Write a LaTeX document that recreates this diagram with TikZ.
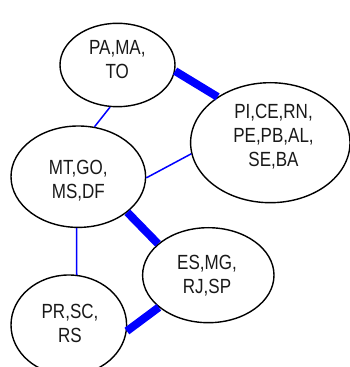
\documentclass[tikz,border=0pt]{standalone}
\usepackage{fontspec}
\newfontfamily\labfont[FakeStretch=0.83]{Liberation Sans}
\usetikzlibrary{shapes.geometric}
\begin{document}
\begin{tikzpicture}[x=1pt,y=1pt,
  ell/.style={draw=black,line width=1.4pt,ellipse,inner sep=0pt},
  txt/.style={align=center,inner sep=0pt,anchor=center,text=black!90,
    font=\labfont\fontsize{20.5}{24}\selectfont},
  thin/.style={draw=blue,line width=1.5pt},
  thick/.style={draw=blue,line width=8pt}]
\useasboundingbox (0,0) rectangle (350,367);
\node[ell,minimum width=115pt,minimum height=83.4pt] (pa) at (117.5,302) {};
\node[ell,minimum width=159.4pt,minimum height=120pt] (pi) at (270.3,224.3) {};
\node[ell,minimum width=134.6pt,minimum height=101.4pt] (mt) at (78.3,190.3) {};
\node[ell,minimum width=131.4pt,minimum height=95pt] (es) at (208.3,91.8) {};
\node[ell,minimum width=115.6pt,minimum height=100pt] (pr) at (68.8,42) {};
\node[txt] (pat) at (117.3,307.5) {PA,MA,\\TO};
\node[txt] (pit) at (273.5,230.5) {PI,CE,RN,\\PE,PB,AL,\\SE,BA};
\node[txt] (mtt) at (78.3,186.3) {MT,GO,\\MS,DF};
\node[txt] (est) at (207,91.2) {ES,MG,\\RJ,SP};
\node[txt] (prt) at (70,43.7) {PR,SC,\\RS};
\draw[thick] (pa.-6) -- (pi.139);
\draw[thin] (pa.260.7) -- (mt.72.2);
\draw[thin] (pi.188.3) -- (mt.-1.4);
\draw[thick] (mt.-36.3) -- (es.148.9);
\draw[thin] (mt.268.2) -- (pr.81);
\draw[thick] (es.213.5) -- (pr.-6.6);
\end{tikzpicture}
\end{document}
